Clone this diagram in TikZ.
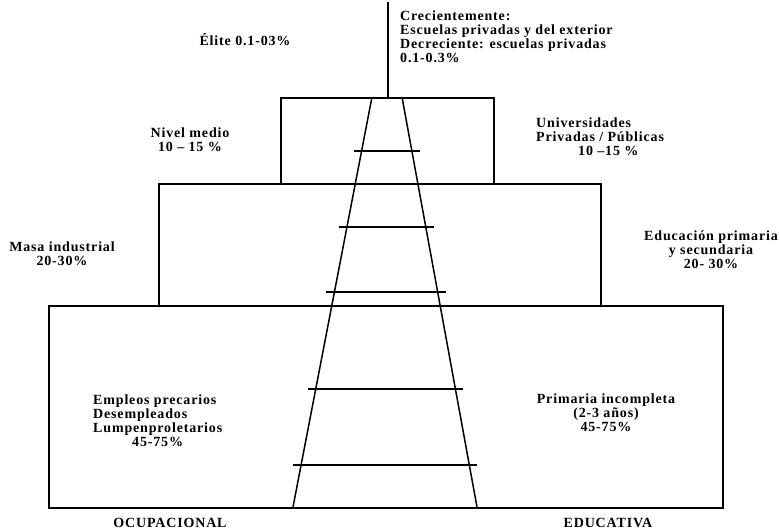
\documentclass[tikz,border=0pt]{standalone}
\usepackage{fontspec}
\setmainfont{Liberation Serif}[LetterSpace=6]
\usetikzlibrary{calc}

\begin{document}
\begin{tikzpicture}[x=1pt,y=-1pt]
    \newcommand{\overhang}[0]{ 8 }
    \tikzstyle{edge} = [line width=1.5pt,draw=black]
    \tikzstyle{tier} = [rectangle,draw=black,line width=1.5pt,anchor=north west,inner sep=0pt]
    \tikzstyle{lbl}  = [font=\bfseries\fontsize{14}{14}\selectfont,inner sep=0pt]

    \useasboundingbox (0,0) rectangle (780,531);

    % tiers, bottom to top
    \node[tier,minimum width=674,minimum height=202] (base) at (48,305) {};
    \node[tier,minimum width=442,minimum height=122] (mass) at (158,183) {};
    \node[tier,minimum width=213,minimum height=86] (uni) at (280,97) {};

    % apex line
    \coordinate (apex) at (388,2);
    \draw[edge] (apex) -- (apex |- uni.north);

    % ladder
    \coordinate (lt) at (372,97);
    \coordinate (lb) at (293,507);
    \coordinate (rt) at (402,97);
    \coordinate (rb) at (477,507);
    \draw[edge] (lt) -- (lb);
    \draw[edge] (rt) -- (rb);
    \foreach \t in {0.132,0.317,0.476,0.712,0.898}
      \draw[edge] ($(lt)!\t!(lb)+(-\overhang,0)$)
                --($(rt)!\t!(rb)+(\overhang,0)$);

    % labels
    \node[lbl,align=left,anchor=west] (crece) at (400,37)
      {Crecientemente:\\Escuelas privadas y del exterior\\Decreciente: escuelas privadas\\0.1-0.3\%};
    \node[lbl] (elite) at (245,40) {Élite 0.1-03\%};
    \node[lbl,align=center] (medio) at (190,140) {Nivel medio\\10 -- 15 \%};
    \node[lbl,align=left,anchor=west] (univ) at (536,137)
      {Universidades\\Privadas / Públicas\\\hspace*{42pt}10 --15 \%};
    \node[lbl,align=center] (masa) at (62,254) {Masa industrial\\20-30\%};
    \node[lbl,align=center] (edu) at (711,250) {Educación primaria\\y secundaria\\20- 30\%};
    \node[lbl,align=left,anchor=west] (empleo) at (93,421)
      {Empleos precarios\\Desempleados\\Lumpenproletarios\\\hspace*{39pt}45-75\%};
    \node[lbl,align=center] (prim) at (606,413) {Primaria incompleta\\(2-3 años)\\45-75\%};
    \node[lbl] (ocup) at (170,523) {OCUPACIONAL};
    \node[lbl] (educ) at (608,523) {EDUCATIVA};
\end{tikzpicture}
\end{document}
